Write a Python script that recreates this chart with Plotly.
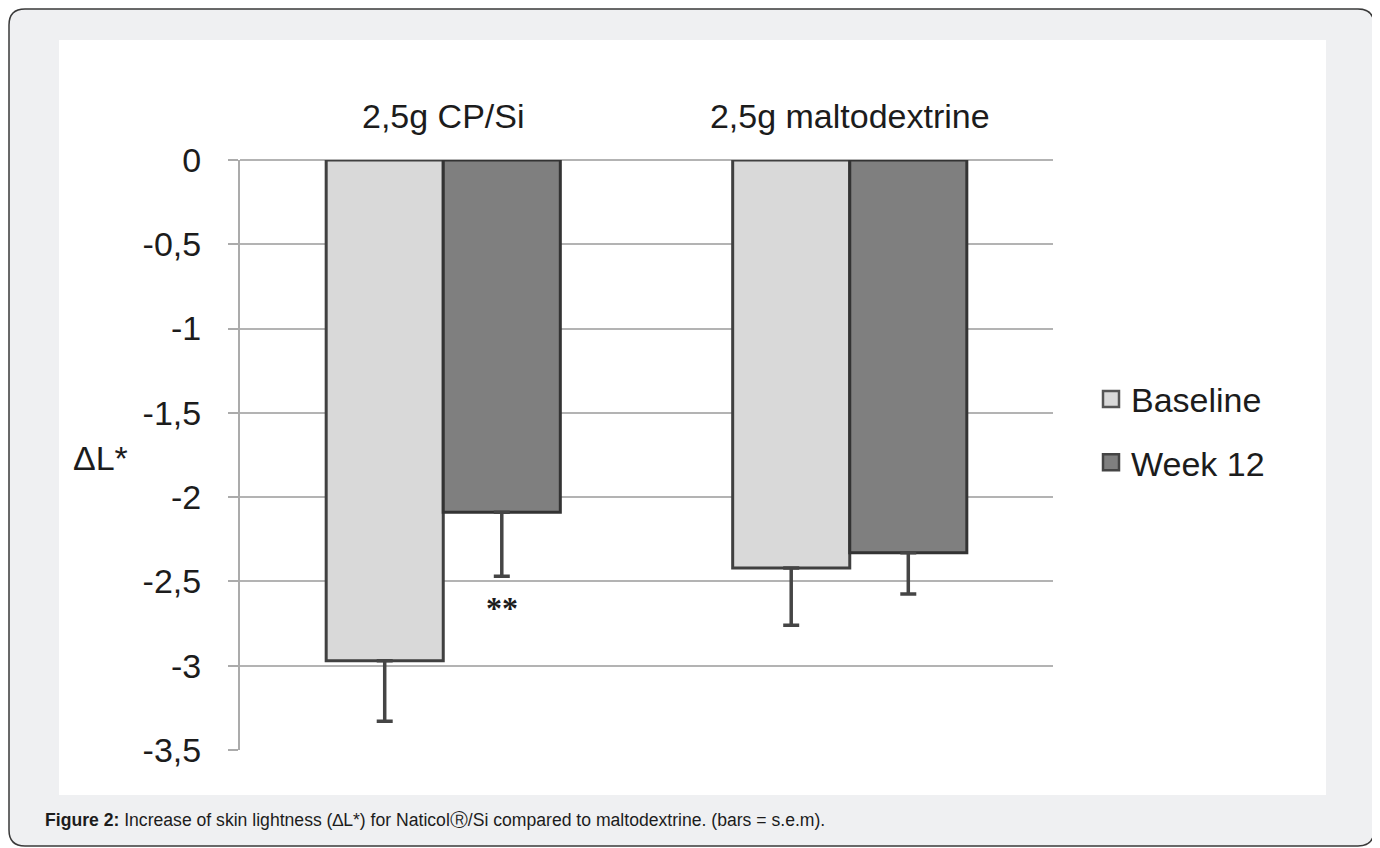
import plotly.graph_objects as go

# ---------------- data ----------------
categories = ["2,5g CP/Si", "2,5g maltodextrine"]
baseline_vals = [-2.97, -2.42]
baseline_err = [0.36, 0.34]
week12_vals = [-2.09, -2.33]
week12_err = [0.38, 0.245]
series_names = ["Baseline", "Week 12"]
y_tickvals = [0, -0.5, -1, -1.5, -2, -2.5, -3, -3.5]
y_ticktext = ["0", "-0,5", "-1", "-1,5", "-2", "-2,5", "-3", "-3,5"]
sig_label = "**"
sig_pos = [0.144, -2.66]   # (category position of Week 12 bar in group 1, y value)
y_title = "ΔL*"
caption_bold = "Figure 2:"
caption_text = " Increase of skin lightness (∆L*) for NaticolⓇ/Si compared to maltodextrine. (bars = s.e.m)."

# ---------------- layout geometry (page pixels) ----------------
OFF = 8                      # default body margin of the html page
W, H = 1380 - OFF, 848 - OFF
PL, PR, PT, PB = 240, 1053, 160, 750   # plot area in page px

def px(xp):
    return (xp - PL) / (PR - PL)

def py(yp):
    return (PB - yp) / (PB - PT)

def rounded_path(x0, y0, x1, y1, r):
    pts = [
        ("M", x0 + r, y0), ("L", x1 - r, y0), ("Q", x1, y0, x1, y0 + r),
        ("L", x1, y1 - r), ("Q", x1, y1, x1 - r, y1), ("L", x0 + r, y1),
        ("Q", x0, y1, x0, y1 - r), ("L", x0, y0 + r), ("Q", x0, y0, x0 + r, y0),
    ]
    out = []
    for p in pts:
        coords = p[1:]
        conv = [f"{px(coords[i]):.5f},{py(coords[i+1]):.5f}" for i in range(0, len(coords), 2)]
        out.append(p[0] + " ".join(conv))
    return " ".join(out) + " Z"

FONT = "Liberation Sans, Arial, sans-serif"
TXT = "#1c1c1c"

fig = go.Figure()

fig.add_trace(go.Bar(
    x=categories, y=baseline_vals, name=series_names[0],
    marker=dict(color="#d9d9d9", line=dict(color="#404040", width=3)),
    error_y=dict(type="data", symmetric=False, array=[0] * len(baseline_err),
                 arrayminus=baseline_err, color="#454545", thickness=3.5, width=8),
    showlegend=False,
))
fig.add_trace(go.Bar(
    x=categories, y=week12_vals, name=series_names[1],
    marker=dict(color="#7f7f7f", line=dict(color="#333333", width=3)),
    error_y=dict(type="data", symmetric=False, array=[0] * len(week12_err),
                 arrayminus=week12_err, color="#454545", thickness=3.5, width=8),
    showlegend=False,
))

# legend entries (square swatches)
fig.add_trace(go.Scatter(
    x=[None], y=[None], mode="markers", name=series_names[0], legendgroup="a",
    marker=dict(symbol="square", size=16, color="#d9d9d9", line=dict(color="#555555", width=2.5)),
))
fig.add_trace(go.Scatter(
    x=[None], y=[None], mode="markers", name=series_names[1], legendgroup="b",
    marker=dict(symbol="square", size=16, color="#7f7f7f", line=dict(color="#444444", width=2.5)),
))

shapes = [
    dict(type="path", xref="paper", yref="paper", layer="below",
         path=rounded_path(9, 9, 1374, 846, 16),
         fillcolor="#eff0f2", line=dict(color="#3a3a3a", width=1.5)),
    dict(type="rect", xref="paper", yref="paper", layer="below",
         x0=px(59), x1=px(1326), y0=py(795), y1=py(40),
         fillcolor="#ffffff", line=dict(width=0)),
]

annotations = [
    dict(x=sig_pos[0], y=sig_pos[1], xref="x", yref="y", text=f"<b>{sig_label}</b>", showarrow=False,
         font=dict(family="Liberation Serif, DejaVu Serif, serif", size=32, color=TXT),
         xanchor="center", yanchor="middle"),
    dict(x=px(100), y=py(458), xref="paper", yref="paper", text=y_title, showarrow=False,
         font=dict(family=FONT, size=34, color=TXT), xanchor="center", yanchor="middle"),
    dict(x=px(43), y=py(820), xref="paper", yref="paper",
         text=f"<b>{caption_bold}</b>{caption_text}", showarrow=False,
         font=dict(family=FONT, size=17.6, color=TXT), xanchor="left", yanchor="middle"),
]

fig.update_layout(
    width=W, height=H,
    margin=dict(l=PL - OFF, r=W - (PR - OFF), t=PT - OFF, b=H - (PB - OFF), pad=0),
    paper_bgcolor="#ffffff", plot_bgcolor="rgba(0,0,0,0)",
    barmode="group", bargap=0.424, bargroupgap=0,
    font=dict(family=FONT, size=34, color=TXT),
    shapes=shapes, annotations=annotations,
    legend=dict(x=px(1091), y=py(431), xanchor="left", yanchor="middle",
                font=dict(family=FONT, size=34, color=TXT),
                traceorder="grouped", tracegroupgap=16, itemwidth=30,
                bgcolor="rgba(0,0,0,0)"),
    xaxis=dict(side="top", showgrid=False, showline=False, ticks="", zeroline=False,
               tickfont=dict(family=FONT, size=34, color=TXT), ticklabelstandoff=24,
               range=[-0.5, 1.5]),
    yaxis=dict(range=[-3.5, 0], tickvals=y_tickvals, ticktext=y_ticktext,
               showgrid=True, gridcolor="#b3b3b3", gridwidth=2,
               zeroline=True, zerolinecolor="#b3b3b3", zerolinewidth=2,
               showline=True, linecolor="#ababab", linewidth=2,
               ticks="outside", ticklen=10, tickcolor="#ababab", tickwidth=2,
               tickfont=dict(family=FONT, size=34, color=TXT), ticklabelstandoff=20),
)

fig.write_html("out.html")
